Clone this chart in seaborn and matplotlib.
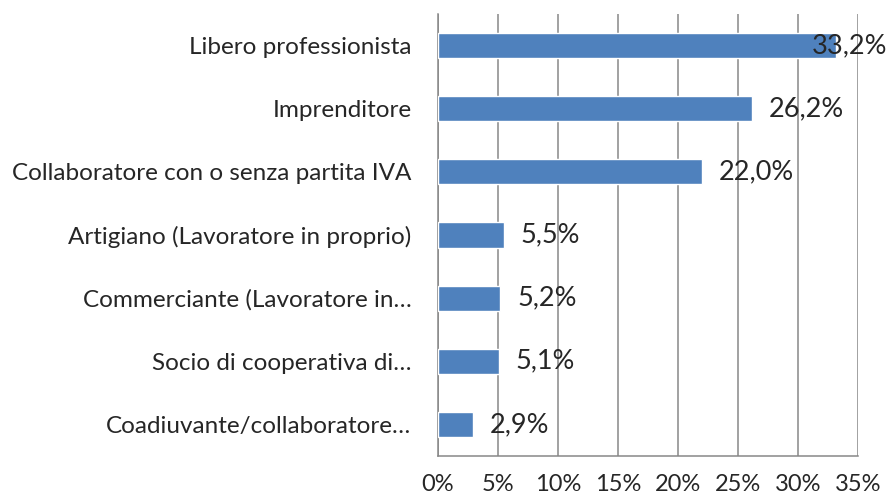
import matplotlib
matplotlib.use("Agg")
import matplotlib.pyplot as plt
import seaborn as sns
import pandas as pd

categories = [
    "Libero professionista",
    "Imprenditore",
    "Collaboratore con o senza partita IVA",
    "Artigiano (Lavoratore in proprio)",
    "Commerciante (Lavoratore in…",
    "Socio di cooperativa di…",
    "Coadiuvante/collaboratore…",
]
values = [33.2, 26.2, 22.0, 5.5, 5.2, 5.1, 2.9]
labels = ["33,2%", "26,2%", "22,0%", "5,5%", "5,2%", "5,1%", "2,9%"]
xticks = [0, 5, 10, 15, 20, 25, 30, 35]

df = pd.DataFrame({"cat": categories, "val": values})

sns.set_style("white")
plt.rcParams["font.family"] = ["Lato", "DejaVu Sans"]

fig = plt.figure(figsize=(8.92, 5), dpi=100)
ax = fig.add_axes([0.491, 0.088, 0.471, 0.884])

grid_col = "#878787"
sns.barplot(data=df, x="val", y="cat", orient="h", color="#4F81BD",
            saturation=1, width=0.4, ax=ax, zorder=3)

ax.set_xlim(0, 35)
ax.set_ylim(6.5, -0.5)
ax.set_xticks(xticks)
ax.set_xticklabels([f"{t}%" for t in xticks], fontsize=17)
ax.set_xlabel("")
ax.set_ylabel("")
ax.grid(axis="x", color=grid_col, linewidth=1.1, zorder=0)
ax.set_axisbelow(True)

for s in ["top", "right"]:
    ax.spines[s].set_visible(False)
for s in ["left", "bottom"]:
    ax.spines[s].set_color(grid_col)
    ax.spines[s].set_linewidth(1.1)

# category labels without ticks, ticks on boundaries
ax.set_yticks(range(len(categories)))
ax.set_yticklabels(categories, fontsize=17.5)
ax.tick_params(axis="y", which="major", length=0, pad=19)
ax.set_yticks([i - 0.5 for i in range(len(categories) + 1)], minor=True)
ax.tick_params(axis="y", which="minor", length=7, color=grid_col, width=1.1)
ax.tick_params(axis="x", length=7, color=grid_col, width=1.1, pad=6)

for i, (v, lab) in enumerate(zip(values, labels)):
    off = 12 if v < 30 else -18
    ax.annotate(lab, (v, i), xytext=(off, 0), textcoords="offset points",
                va="center", ha="left", fontsize=19.5, annotation_clip=False)

fig.savefig("out.png", dpi=100)
